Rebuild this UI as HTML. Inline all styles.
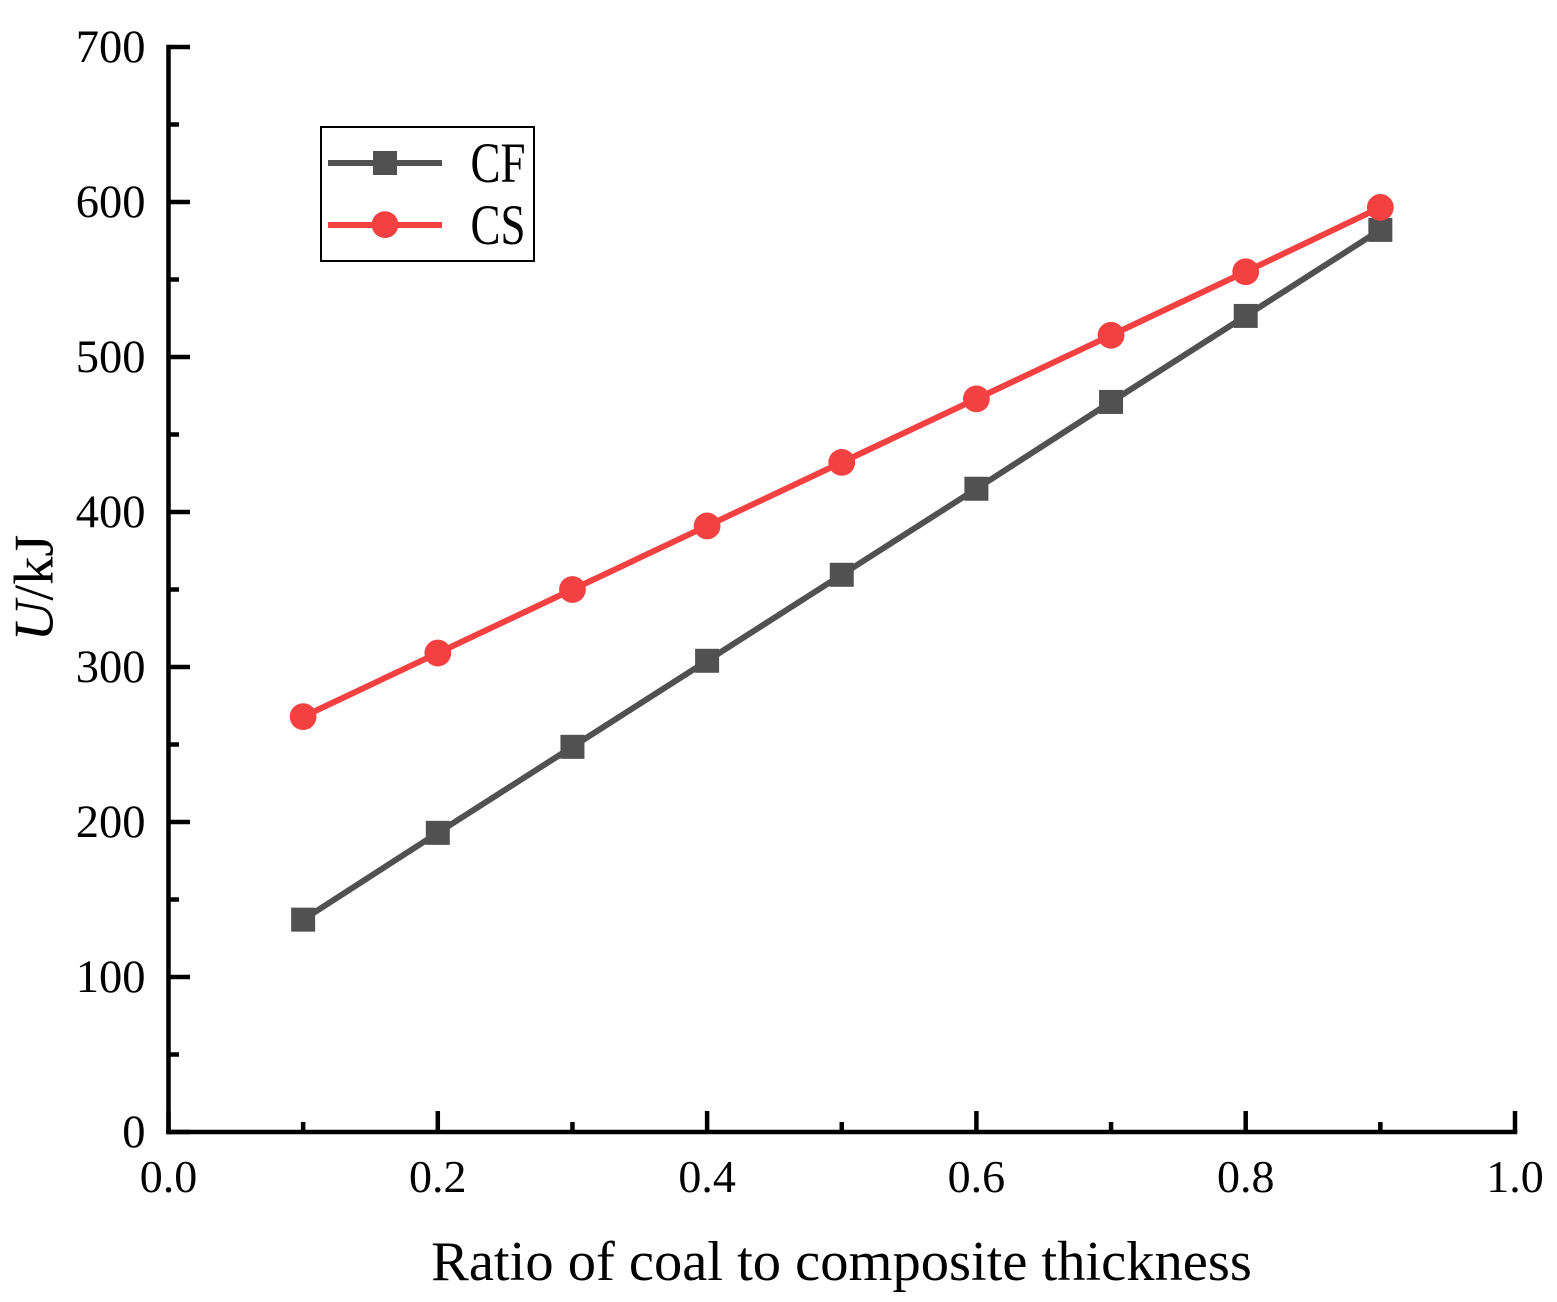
<!DOCTYPE html>
<html>
<head>
<meta charset="utf-8">
<style>
html,body{margin:0;padding:0;background:#fff;}
svg{display:block;}
text{font-family:"Liberation Serif",serif;fill:#000;}
</style>
</head>
<body>
<svg id="chart" width="1557" height="1302" viewBox="0 0 1557 1302" xmlns="http://www.w3.org/2000/svg"></svg>
<script>
const xCategories = [0.1,0.2,0.3,0.4,0.5,0.6,0.7,0.8,0.9];
const cfValues = [137,193,248.5,304,359.5,415,471,526.5,582];
const csValues = [268,309,350,391,432,473,514,555,596.5];
const xTickLabels = ["0.0","0.2","0.4","0.6","0.8","1.0"];
const xTickValues = [0,0.2,0.4,0.6,0.8,1.0];
const xMinorTicks = [0.1,0.3,0.5,0.7,0.9];
const yTickValues = [0,100,200,300,400,500,600,700];
const yMinorTicks = [50,150,250,350,450,550,650];

const svg = document.getElementById('chart');
const NS = 'http://www.w3.org/2000/svg';
const X0 = 168.5, X1 = 1515, Y0 = 1132, Y1 = 47;
const xScale = v => X0 + (v - 0) / 1.0 * (X1 - X0);
const yScale = v => Y0 - (v - 0) / 700 * (Y0 - Y1);
function mk(tag, attrs, parent){
  const e = document.createElementNS(NS, tag);
  for (const k in attrs) e.setAttribute(k, attrs[k]);
  (parent || svg).appendChild(e);
  return e;
}

// axes
const axisX = mk('line',{x1:X0-2.25,y1:Y0,x2:X1+2.25,y2:Y0,stroke:'#000','stroke-width':4.5});


const axisY = mk('line',{x1:X0,y1:Y0+2.25,x2:X0,y2:Y1-2.25,stroke:'#000','stroke-width':4.5});



xTickValues.forEach((v,i)=>{
  const t = mk('line',{x1:xScale(v),y1:Y0,x2:xScale(v),y2:1111,stroke:'#000','stroke-width':4.5});
  
  
  const l = mk('text',{x:xScale(v),y:1192,'text-anchor':'middle','font-size':46});
  l.textContent = xTickLabels[i];
  
  
});
xMinorTicks.forEach(v=>{
  const t = mk('line',{x1:xScale(v),y1:Y0,x2:xScale(v),y2:1122,stroke:'#000','stroke-width':4.5});
  
  
});
yTickValues.forEach(v=>{
  const t = mk('line',{x1:X0,y1:yScale(v),x2:190,y2:yScale(v),stroke:'#000','stroke-width':4.5});
  
  
  const l = mk('text',{x:145.5,y:yScale(v)+15,'text-anchor':'end','font-size':46.5});
  l.textContent = String(v);
  
  
});
yMinorTicks.forEach(v=>{
  const t = mk('line',{x1:X0,y1:yScale(v),x2:179,y2:yScale(v),stroke:'#000','stroke-width':4.5});
  
  
});

// titles
const xTitle = mk('text',{x:841.5,y:1280,'text-anchor':'middle','font-size':56.5});
xTitle.textContent = 'Ratio of coal to composite thickness';


const yTitle = mk('text',{transform:'translate(52.5,588) rotate(-90)','text-anchor':'middle','font-size':56.5});


const yi = mk('tspan',{'font-style':'italic'},yTitle);
yi.textContent = 'U';
const yr = mk('tspan',{},yTitle);
yr.textContent = '/kJ';

// series
const CF = '#515151', CS = '#f34141';
function pts(vals){ return vals.map((v,i)=>xScale(xCategories[i])+','+yScale(v)).join(' '); }

const lineCF = mk('polyline',{points:pts(cfValues),fill:'none',stroke:CF,'stroke-width':6});


cfValues.forEach((v,i)=>{
  const m = mk('rect',{x:xScale(xCategories[i])-12,y:yScale(v)-12,width:24,height:24,fill:CF});
  
  
});
const lineCS = mk('polyline',{points:pts(csValues),fill:'none',stroke:CS,'stroke-width':6});


csValues.forEach((v,i)=>{
  const m = mk('circle',{cx:xScale(xCategories[i]),cy:yScale(v),r:13.4,fill:CS});
  
  
});

// legend
const lg = mk('g',{});


const box = mk('rect',{x:321,y:127,width:213,height:134,fill:'#fff',stroke:'#000','stroke-width':2},lg);



const l1 = mk('line',{x1:328,y1:163,x2:442,y2:163,stroke:CF,'stroke-width':6},lg);


const m1 = mk('rect',{x:373,y:151,width:24,height:24,fill:CF},lg);


const t1 = mk('text',{x:470.5,y:182,'font-size':57,textLength:55,lengthAdjust:'spacingAndGlyphs'},lg);
t1.textContent = 'CF';



const l2 = mk('line',{x1:328,y1:225,x2:442,y2:225,stroke:CS,'stroke-width':6},lg);


const m2 = mk('circle',{cx:385,cy:224.6,r:13.4,fill:CS},lg);


const t2 = mk('text',{x:470.5,y:244,'font-size':57,textLength:55,lengthAdjust:'spacingAndGlyphs'},lg);
t2.textContent = 'CS';


</script>
</body>
</html>
